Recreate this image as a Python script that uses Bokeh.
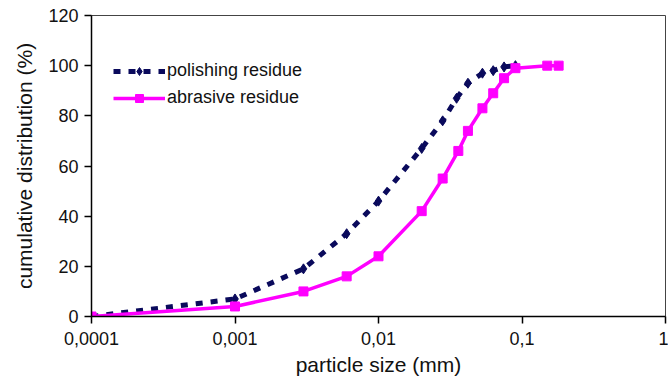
from bokeh.plotting import figure
from bokeh.models import FixedTicker, Legend, LegendItem, Range1d
from bokeh.embed import file_html
from bokeh.resources import INLINE

# particle size (mm)
polish_x = [0.0001, 0.001, 0.003, 0.006, 0.01, 0.02, 0.028, 0.035, 0.042, 0.053, 0.063, 0.075, 0.09]
polish_y = [0, 7, 19, 33, 46, 67, 78, 87, 93, 97, 98, 99.5, 100]

abrasive_x = [0.0001, 0.001, 0.003, 0.006, 0.01, 0.02, 0.028, 0.036, 0.042, 0.053, 0.063, 0.075, 0.09, 0.15, 0.18]
abrasive_y = [0, 4, 10, 16, 24, 42, 55, 66, 74, 83, 89, 95, 99, 100, 100]

x_ticks = [0.0001, 0.001, 0.01, 0.1, 1]
x_tick_labels = ["0,0001", "0,001", "0,01", "0,1", "1"]
y_ticks = [0, 20, 40, 60, 80, 100, 120]

FONT = "Liberation Sans"

p = figure(width=668, height=384, x_axis_type="log", output_backend="svg",
           toolbar_location=None, x_range=Range1d(0.0001, 1), y_range=Range1d(0, 120),
           min_border_left=91, min_border_right=3, min_border_top=15, min_border_bottom=68)
p.grid.visible = False
p.outline_line_color = "#444444"
p.outline_line_width = 1
p.background_fill_color = "white"
p.border_fill_color = "white"

for ax in (p.xaxis[0], p.yaxis[0]):
    ax.axis_line_color = "black"
    ax.axis_line_width = 1.5
    ax.major_tick_line_color = "black"
    ax.major_tick_line_width = 1.5
    ax.major_tick_out = 7
    ax.major_tick_in = 0
    ax.minor_tick_line_color = None
    ax.major_label_text_font = FONT
    ax.major_label_text_font_size = "18px"
    ax.major_label_text_color = "#111111"
    ax.axis_label_text_font = FONT
    ax.axis_label_text_font_size = "21px"
    ax.axis_label_text_font_style = "normal"
    ax.axis_label_text_color = "#111111"

p.xaxis.ticker = FixedTicker(ticks=x_ticks)
p.xaxis.major_label_overrides = {t: l for t, l in zip(x_ticks, x_tick_labels)}
p.xaxis.axis_label = "particle size (mm)"
p.xaxis.major_label_standoff = 8
p.xaxis.axis_label_standoff = 5

p.yaxis.ticker = FixedTicker(ticks=y_ticks)
p.yaxis.axis_label = "cumulative distribution (%)"
p.yaxis.major_label_standoff = 6
p.yaxis.axis_label_standoff = 9

NAVY = "#0a0a5c"
MAG = "#ff00ff"

l1 = p.line(polish_x, polish_y, line_color=NAVY, line_width=5, line_dash="7 8")
m1 = p.scatter(polish_x, polish_y, marker="diamond", size=10, fill_color=NAVY, line_color=NAVY)
l2 = p.line(abrasive_x, abrasive_y, line_color=MAG, line_width=3.5)
m2 = p.scatter(abrasive_x, abrasive_y, marker="square", size=9, fill_color=MAG, line_color=MAG)

legend = Legend(items=[LegendItem(label="polishing residue", renderers=[l1, m1]),
                       LegendItem(label="abrasive residue", renderers=[l2, m2])],
                location=(22, 208), padding=0, margin=0, spacing=6,
                glyph_width=52, glyph_height=20, label_height=20, label_standoff=2,
                border_line_color=None, background_fill_alpha=0,
                label_text_font=FONT, label_text_font_size="18px", label_text_color="#111111")
p.add_layout(legend)

open("out.html", "w").write(file_html(p, INLINE))
